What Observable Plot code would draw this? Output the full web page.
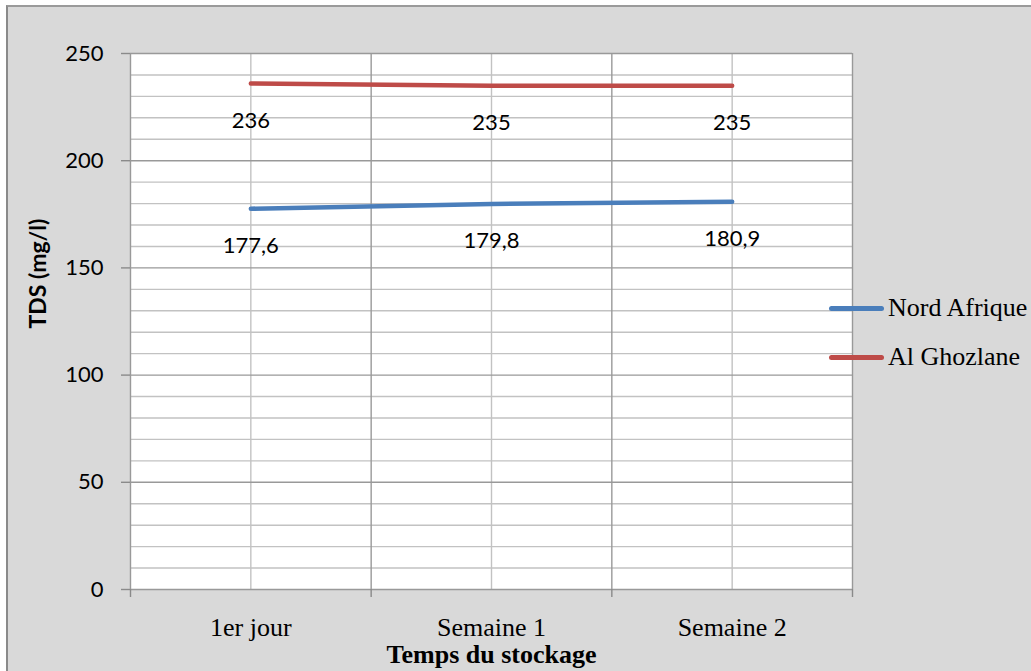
<!DOCTYPE html>
<html>
<head>
<meta charset="utf-8">
<script src="https://cdn.jsdelivr.net/npm/d3@7"></script>
<script src="https://cdn.jsdelivr.net/npm/@observablehq/plot@0.6"></script>
<style>
  html, body { margin: 0; padding: 0; background: #fff; width: 1031px; height: 671px; overflow: hidden; }
  #bg { position: absolute; left: 6px; top: 5px; width: 1100px; height: 800px; border-left: 2px solid #8a8a8a; border-top: 2px solid #9a9a9a; background: #d9d9d9; }
  #chart { position: absolute; left: 0; top: 0; }
  .leg { position: absolute; left: 829px; height: 26px; display: flex; align-items: center; font-family: "Liberation Serif", "Times New Roman", serif; font-size: 26px; color: #000; white-space: nowrap; }
  .leg .sw { width: 55px; height: 5px; border-radius: 3px; margin-right: 4px; }
</style>
</head>
<body>
<div id="bg"></div>
<div id="chart"></div>
<div id="legend"></div>
<script>
const categories = ["1er jour", "Semaine 1", "Semaine 2"];
const seriesNames = ["Nord Afrique", "Al Ghozlane"];
const nordAfrique = [177.6, 179.8, 180.9];
const alGhozlane = [236, 235, 235];
const yTicks = [0, 50, 100, 150, 200, 250];
const colors = ["#4a7ebb", "#be4b48"];

const seriesValues = [nordAfrique, alGhozlane];
const data = [];
seriesNames.forEach((s, si) => {
  seriesValues[si].forEach((v, i) => data.push({series: s, pos: i + 0.5, value: v, cat: categories[i]}));
});
const minor = d3.range(0, 251, 10).filter(v => v % 50 !== 0);
const centers = categories.map((c, i) => i + 0.5);
const bounds = d3.range(0, categories.length + 1);
const fmt = v => String(v).replace(".", ",");

const chart = Plot.plot({
  width: 1031,
  height: 671,
  marginLeft: 130,
  marginRight: 179,
  marginTop: 53,
  marginBottom: 82,
  style: {background: "transparent", overflow: "visible"},
  x: {domain: [0, categories.length], axis: null},
  y: {domain: [0, 250], axis: null},
  color: {domain: seriesNames, range: colors},
  marks: [
    Plot.frame({fill: "white", stroke: "none"}),
    Plot.ruleY(minor, {stroke: "#c2c2c2", strokeWidth: 1.4}),
    Plot.ruleX(centers, {stroke: "#c2c2c2", strokeWidth: 1.4}),
    Plot.ruleY(yTicks, {stroke: "#999999", strokeWidth: 1.4}),
    Plot.ruleX(bounds, {stroke: "#999999", strokeWidth: 1.4}),
    Plot.axisY({ticks: yTicks, tickSize: 9, tickPadding: 18, stroke: "#8a8a8a", strokeWidth: 1.4, fill: "#000",
      fontFamily: "Lato, 'Open Sans', sans-serif", fontSize: 22, label: null}),
    Plot.axisX({ticks: bounds, tickSize: 8, tickFormat: () => "", stroke: "#8a8a8a", strokeWidth: 1.4, label: null}),
    Plot.axisX({ticks: centers, tickSize: 0, tickPadding: 28, tickFormat: d => categories[Math.floor(d)],
      fontFamily: "'Liberation Serif', 'Times New Roman', serif", fontSize: 26, fill: "#000", label: null}),
    Plot.line(data, {x: "pos", y: "value", z: "series", stroke: "series", strokeWidth: 4.5, strokeLinecap: "round"}),
    Plot.text(data, {x: "pos", y: "value", text: d => fmt(d.value), dy: 37,
      fontFamily: "Lato, 'Open Sans', sans-serif", fontSize: 22, fill: "#000"}),
    Plot.text(["TDS (mg/l)"], {frameAnchor: "left", dx: -92, dy: 7, rotate: -90,
      fontFamily: "Lato, 'Open Sans', sans-serif", fontSize: 23, fontWeight: "bold", fill: "#000"}),
    Plot.text(["Temps du stockage"], {frameAnchor: "bottom", dy: 73,
      fontFamily: "'Liberation Serif', 'Times New Roman', serif", fontSize: 26, fontWeight: "bold", fill: "#000"})
  ]
});
document.getElementById("chart").appendChild(chart);

const legend = document.getElementById("legend");
const legendTops = [295, 344];
seriesNames.forEach((s, i) => {
  const row = document.createElement("div");
  row.className = "leg";
  row.style.top = legendTops[i] + "px";
  const sw = document.createElement("div");
  sw.className = "sw";
  sw.style.background = colors[i];
  const t = document.createElement("span");
  t.textContent = s;
  row.appendChild(sw);
  row.appendChild(t);
  legend.appendChild(row);
});
</script>
</body>
</html>
